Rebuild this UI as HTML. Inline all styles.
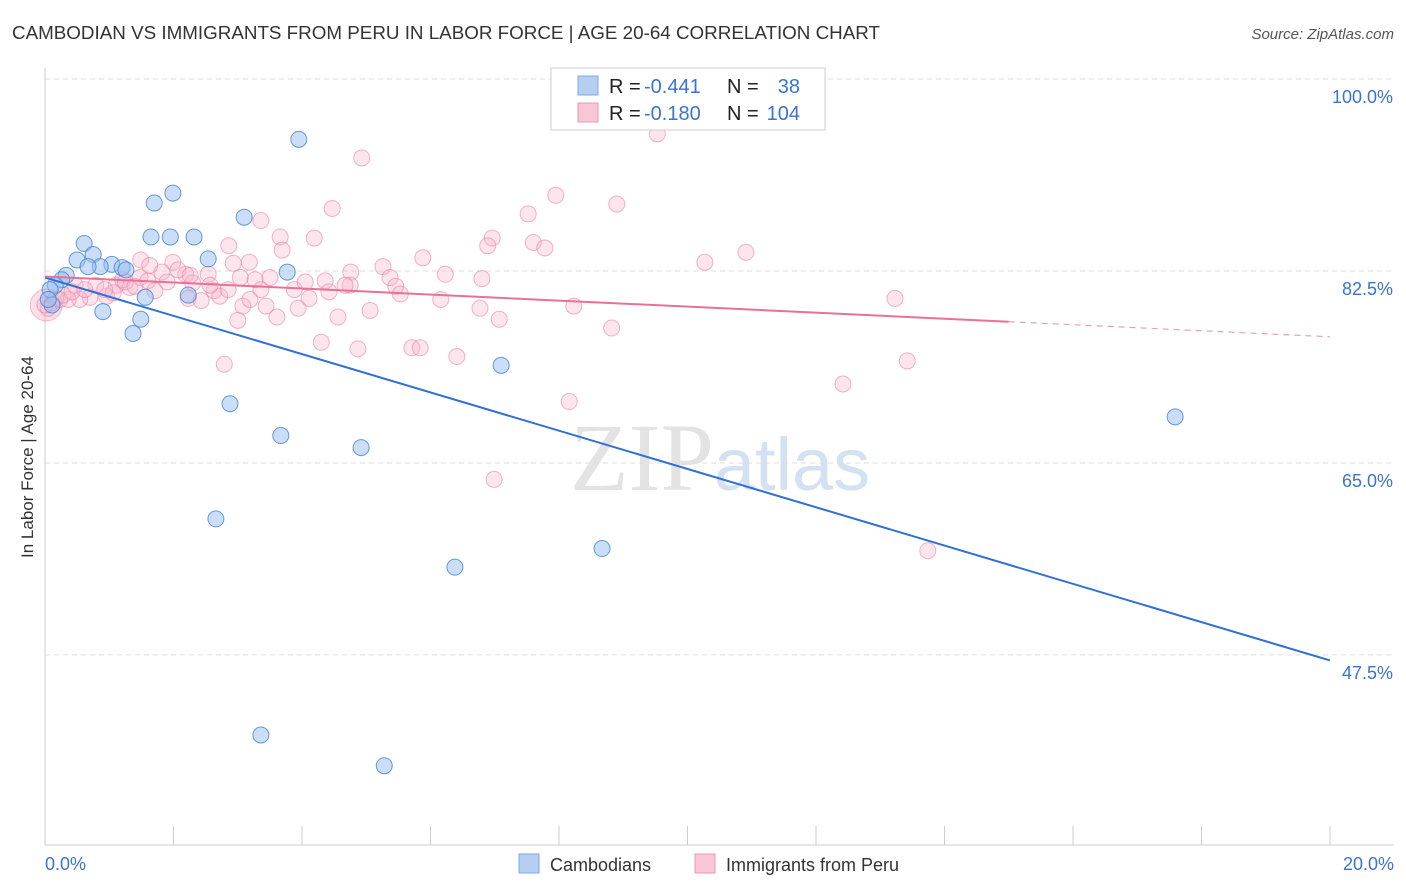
<!DOCTYPE html>
<html><head><meta charset="utf-8"><style>
body{margin:0;background:#fff;font-family:"Liberation Sans",sans-serif;}
svg{display:block}
</style></head><body>
<svg id="chart" width="1406" height="892" xmlns="http://www.w3.org/2000/svg">
<text x="12" y="39" font-size="18" fill="#333" textLength="868" lengthAdjust="spacingAndGlyphs">CAMBODIAN VS IMMIGRANTS FROM PERU IN LABOR FORCE | AGE 20-64 CORRELATION CHART</text>
<text x="1394" y="39" font-size="15" fill="#555" text-anchor="end" font-style="italic">Source: ZipAtlas.com</text>
<text x="720" y="490" font-size="96" text-anchor="middle" fill="#ddd" font-family="Liberation Serif, serif" opacity="0.8">ZIP<tspan fill="#c9daf0" font-family="Liberation Sans, sans-serif" font-size="74">atlas</tspan></text>
<text transform="translate(33,457) rotate(-90)" font-size="17" fill="#333" text-anchor="middle">In Labor Force | Age 20-64</text>
<g id="grid"></g><g id="axes"></g><g id="pink"></g><g id="blue"></g><g id="lines"></g>
<g>
<rect x="551" y="68" width="274" height="62" fill="#fff" stroke="#ccc"/>
<rect x="578" y="76" width="20" height="19" fill="#b5cff3" stroke="#7fa8e0"/>
<rect x="578" y="103" width="20" height="19" fill="#f9c6d6" stroke="#eb98b3"/>
<text x="609" y="93" font-size="20" fill="#222">R =</text>
<text x="644" y="93" font-size="20" fill="#3b73d1">-0.441</text>
<text x="727" y="93" font-size="20" fill="#222">N =</text>
<text x="800" y="93" font-size="20" fill="#3b73d1" text-anchor="end">38</text>
<text x="609" y="120" font-size="20" fill="#222">R =</text>
<text x="644" y="120" font-size="20" fill="#3b73d1">-0.180</text>
<text x="727" y="120" font-size="20" fill="#222">N =</text>
<text x="800" y="120" font-size="20" fill="#3b73d1" text-anchor="end">104</text>
</g>
<g>
<rect x="519" y="854" width="20" height="19" fill="#b5cff3" stroke="#7fa8e0"/>
<text x="550" y="871" font-size="18" fill="#333">Cambodians</text>
<rect x="695" y="854" width="20" height="19" fill="#f9c6d6" stroke="#eb98b3"/>
<text x="726" y="871" font-size="18" fill="#333">Immigrants from Peru</text>
</g>
</svg>
<script>
const yTicks=[100,82.5,65,47.5];
const yTickLabels=["100.0%","82.5%","65.0%","47.5%"];
const xEndLabels=["0.0%","20.0%"];
const blueX=[3.95,1.99,1.70,3.10,1.65,1.95,2.32,0.61,0.75,0.50,1.04,0.86,0.67,1.20,1.26,0.33,0.26,2.54,3.77,0.16,0.08,1.56,2.23,0.11,0.90,1.49,1.37,7.10,2.88,3.67,4.92,17.59,2.66,8.67,6.38,3.36,5.28,0.05];
const blueY=[94.5,89.6,88.7,87.4,85.6,85.6,85.6,85.0,84.0,83.5,83.1,82.9,82.9,82.8,82.6,82.1,81.7,83.6,82.4,81.2,80.8,80.1,80.3,79.4,78.8,78.1,76.8,73.9,70.4,67.5,66.4,69.2,59.9,57.2,55.5,40.2,37.4,79.9];
const pinkX=[9.53,4.93,7.95,8.90,4.47,7.52,3.36,3.66,4.19,6.96,2.86,7.60,6.89,7.78,10.91,3.69,5.88,10.27,2.93,3.18,1.49,1.99,5.26,4.76,6.23,6.80,2.54,2.19,1.82,1.48,5.37,4.36,3.50,3.04,4.75,5.46,1.60,2.30,1.11,1.32,0.79,0.47,3.36,3.88,4.42,5.53,2.63,1.71,2.72,2.23,2.43,4.11,3.44,13.23,6.16,8.23,6.77,3.08,3.94,5.06,4.56,3.61,3.00,7.07,0.96,0.70,0.54,0.36,0.23,0.11,0.05,8.82,4.30,4.87,5.71,5.84,6.41,2.79,13.42,12.42,8.16,6.99,13.74,1.06,1.21,0.17,0.28,0.42,0.62,0.93,1.25,1.40,2.07,1.90,2.57,3.27,4.05,4.67,2.85,3.19,1.63,2.26,0.00];
const pinkY=[95.0,92.8,89.4,88.6,88.2,87.7,87.1,85.6,85.5,85.5,84.8,85.1,84.8,84.6,84.2,84.4,83.7,83.3,83.2,83.3,83.5,83.3,82.9,82.4,82.2,81.8,82.2,82.2,82.4,81.9,81.9,81.6,81.9,81.9,81.2,81.1,81.6,81.4,81.2,81.0,81.2,81.2,80.8,80.8,80.6,80.4,80.7,80.7,80.2,80.0,79.8,80.0,79.3,80.0,79.9,79.3,79.1,79.3,79.1,78.9,78.3,78.3,78.0,78.1,80.2,80.1,79.9,79.9,79.9,79.6,79.1,77.3,76.0,75.4,75.5,75.5,74.7,74.0,74.3,72.2,70.6,63.5,57.0,80.5,81.7,80.0,80.3,80.6,80.8,80.8,81.5,81.1,82.6,81.5,81.2,81.7,81.5,81.2,80.8,79.9,83.0,82.1,79.4];
const blueLine=[81.9,47.0];
const pinkLine=[82.0,76.5];
const pinkSolidEnd=15.0;
const NS="http://www.w3.org/2000/svg";
const X=v=>45+v*64.25, Y=v=>79+(100-v)*10.97;
function mk(tag,attrs,parent){const e=document.createElementNS(NS,tag);for(const k in attrs)e.setAttribute(k,attrs[k]);parent.appendChild(e);return e;}
const grid=document.getElementById('grid'),axes=document.getElementById('axes');
yTicks.forEach((t,i)=>{
 const l=mk('line',{x1:45,x2:1394,y1:Y(t),y2:Y(t),stroke:'#ddd','stroke-dasharray':'5,4'},grid);
 
 
 const tx=mk('text',{x:1393,y:Y(t)+24,'font-size':18,fill:'#3b73d1','text-anchor':'end'},axes);
 tx.textContent=yTickLabels[i];
 
 
});
mk('line',{x1:45,x2:1394,y1:845,y2:845,stroke:'#ccc'},axes);
mk('line',{x1:45,x2:45,y1:68,y2:845,stroke:'#ccc'},axes);
for(let i=0;i<=10;i++){const t=mk('line',{x1:X(i*2),x2:X(i*2),y1:826,y2:845,stroke:'#ccc'},axes);
 
 }
[[0,'start',45],[20,'end',1394]].forEach((a,i)=>{const t=mk('text',{x:a[2],y:870,'font-size':18,fill:'#3b73d1','text-anchor':a[1]},axes);t.textContent=xEndLabels[i];
 
 });
const pg=document.getElementById('pink'),bg=document.getElementById('blue');
mk('circle',{cx:X(0.02),cy:Y(79.4),r:16,fill:'rgba(244,160,188,0.35)',stroke:'rgba(230,130,165,0.5)'},pg);
pinkX.forEach((x,i)=>{const c=mk('circle',{cx:X(x),cy:Y(pinkY[i]),r:8,fill:'rgba(248,180,202,0.35)',stroke:'rgba(232,130,165,0.6)','stroke-width':1},pg);
 
 });
blueX.forEach((x,i)=>{const c=mk('circle',{cx:X(x),cy:Y(blueY[i]),r:8,fill:'rgba(150,190,240,0.5)',stroke:'rgba(70,130,210,0.8)','stroke-width':1},bg);
 
 });
const lg=document.getElementById('lines');
const bl=mk('line',{x1:X(0),y1:Y(blueLine[0]),x2:X(20),y2:Y(blueLine[1]),stroke:'#2f6fd6','stroke-width':2},lg);


const py=x=>pinkLine[0]+(pinkLine[1]-pinkLine[0])*x/20;
const pl=mk('line',{x1:X(0),y1:Y(py(0)),x2:X(pinkSolidEnd),y2:Y(py(pinkSolidEnd)),stroke:'#e8709a','stroke-width':2},lg);


const pd=mk('line',{x1:X(pinkSolidEnd),y1:Y(py(pinkSolidEnd)),x2:X(20),y2:Y(py(20)),stroke:'#e8a0b8','stroke-width':1.2,'stroke-dasharray':'6,5'},lg);


</script>
</body></html>
